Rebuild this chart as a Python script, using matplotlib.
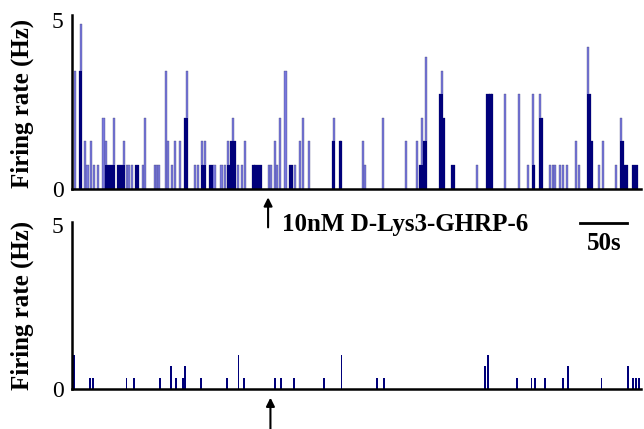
import numpy as np
import matplotlib
matplotlib.use("Agg")
import matplotlib.pyplot as plt

# top trace (before + after drug), bin centre in s, rate in Hz
top_t = [3, 8.5, 10, 13.5, 16.5, 20.5, 23.5, 27.5, 33.5, 36.5, 38.5, 40.5, 42.5,
         44.5, 49, 51, 53, 55, 58, 60.5, 63.5, 68.5, 70.5, 75.5, 78, 88, 90.5, 93,
         99.5, 102, 106, 109.5, 115, 120.5, 122.5, 131, 133.5, 138, 139.5, 141.5,
         147, 149, 151.5, 159, 163, 165.5, 167.5, 169.5, 171.5, 173, 177, 180.5,
         184, 193, 195, 197, 199, 201, 209.5, 212, 215.5, 218, 221.5, 227, 232,
         234, 237.5, 242, 245.5, 252, 277.5, 279, 284.5, 286, 309, 311.5, 331,
         355, 366.5, 370, 372, 374.5, 376.5, 391.5, 393.5, 395.5, 404, 406, 430.5,
         441, 443, 445, 447, 460.5, 475.5, 484.5, 490, 491.5, 498, 500, 508.5, 511,
         514, 519, 522.5, 526, 536, 539.5, 548.5, 550.5, 552.5, 560.5, 565, 578.5,
         584, 586, 588, 590, 597, 599, 601]
top_r = [3.5, 3.5, 4.9, 1.4, 0.7, 1.4, 0.7, 0.7, 2.1, 1.4, 0.7, 0.7, 0.7,
         2.1, 0.7, 0.7, 0.7, 1.4, 0.7, 0.7, 0.7, 0.7, 0.7, 0.7, 2.1, 0.7, 0.7, 0.7,
         3.5, 1.4, 0.7, 1.4, 1.4, 2.1, 3.5, 0.7, 0.7, 1.4, 0.7, 1.4,
         0.7, 0.7, 0.7, 0.7, 0.7, 1.4, 0.7, 1.4, 2.1, 1.4, 0.7, 0.7,
         1.4, 0.7, 0.7, 0.7, 0.7, 0.7, 0.7, 0.7, 1.4, 0.7, 2.1, 3.5, 0.7,
         0.7, 0.7, 1.4, 2.1, 1.4, 1.4, 2.1, 1.4, 1.4, 1.4, 0.7, 2.1,
         1.4, 1.4, 0.7, 2.1, 1.4, 3.9, 2.8, 3.5, 2.1, 0.7, 0.7, 0.7,
         2.8, 2.8, 2.8, 2.8, 2.8, 2.8, 0.7, 2.8, 0.7, 2.8, 2.1, 0.7, 0.7,
         0.7, 0.7, 0.7, 0.7, 1.4, 0.7, 4.2, 2.8, 1.4, 0.7, 1.4, 0.7,
         2.1, 1.4, 0.7, 0.7, 0.7, 0.7, 0.7]

# bottom trace
bot_t = [2, 19, 22, 58, 66, 93.5, 105, 111, 118, 120.5, 137.5, 165, 177, 182.5,
         216, 222, 236, 268, 286.5, 324, 332, 439, 442, 473.5, 488.5, 492, 503,
         522.5, 527, 563, 591, 596.5, 600, 602.5]
bot_r = [1.05, 0.35, 0.35, 0.35, 0.35, 0.35, 0.7, 0.35, 0.35, 0.7, 0.35, 0.35, 1.05, 0.35,
         0.35, 0.35, 0.35, 0.35, 1.05, 0.35, 0.35, 0.7, 1.05, 0.35, 0.35, 0.35, 0.35,
         0.35, 0.7, 0.35, 0.7, 0.35, 0.35, 0.35]

drug_t = 208.5
drug_label = "10nM D-Lys3-GHRP-6"
scale_s = 50

light = "#7878dc"
dark = "#00007a"
bw = 2.2
serif = "Liberation Serif"

fig = plt.figure(figsize=(6.44, 4.29), dpi=100)
ax1 = fig.add_axes([0.1118, 0.5606, 0.8835, 0.4044])
ax2 = fig.add_axes([0.1118, 0.0932, 0.8835, 0.39])
ax2.patch.set_visible(False)

# light bars, then darker overlap where neighbouring bins stack up
t = np.array(top_t)
r = np.array(top_r)
ax1.bar(t, r, width=bw, color=light, edgecolor="#40407a", linewidth=0.25)
over = np.zeros_like(r)
for i in range(len(t)):
    near = np.abs(t - t[i]) < 2.2
    near[i] = False
    if near.any():
        over[i] = min(r[i], r[near].max())
ax1.bar(t, over, width=bw, color=dark, linewidth=0)

ax2.bar(bot_t, bot_r, width=1.9, color=dark, linewidth=0)

for ax, top in ((ax1, 5.16), (ax2, 5.1)):
    ax.set_xlim(0, 605)
    ax.set_ylim(0, top)
    for s in ("top", "right"):
        ax.spines[s].set_visible(False)
    ax.spines["left"].set_linewidth(1.8)
    ax.spines["bottom"].set_linewidth(1.8)
    ax.set_xticks([])
    ax.set_yticks([0, 5])
    ax.tick_params(axis="y", length=0, pad=6)
    for lab in ax.get_yticklabels():
        lab.set_family(serif)
        lab.set_fontsize(17)

for yc in (0.76, 0.287):
    fig.text(0.034, yc, "Firing rate (Hz)", rotation=90, ha="center", va="center",
             family=serif, weight="bold", fontsize=18)

# drug application arrows
arrow = dict(arrowstyle="-|>,head_length=0.5,head_width=0.25", color="black", lw=1.5)
ax1.annotate("", xy=(drug_t, -0.035), xytext=(drug_t, -0.24),
             xycoords=("data", "axes fraction"), arrowprops=arrow, annotation_clip=False)
ax2.annotate("", xy=(drug_t + 2.5, -0.035), xytext=(drug_t + 2.5, -0.26),
             xycoords=("data", "axes fraction"), arrowprops=arrow, annotation_clip=False)
ax1.text(drug_t + 15, -0.21, drug_label, transform=ax1.get_xaxis_transform(),
         ha="left", va="center", family=serif, weight="bold", fontsize=18)

# scale bar
x0 = 540.5
ax1.plot([x0, x0 + scale_s], [-0.196, -0.196], color="black", lw=2,
         transform=ax1.get_xaxis_transform(), clip_on=False)
ax1.text(x0 + scale_s / 2, -0.315, f"{scale_s}s", transform=ax1.get_xaxis_transform(),
         ha="center", va="center", family=serif, weight="bold", fontsize=18)

fig.savefig("out.png", dpi=100)
